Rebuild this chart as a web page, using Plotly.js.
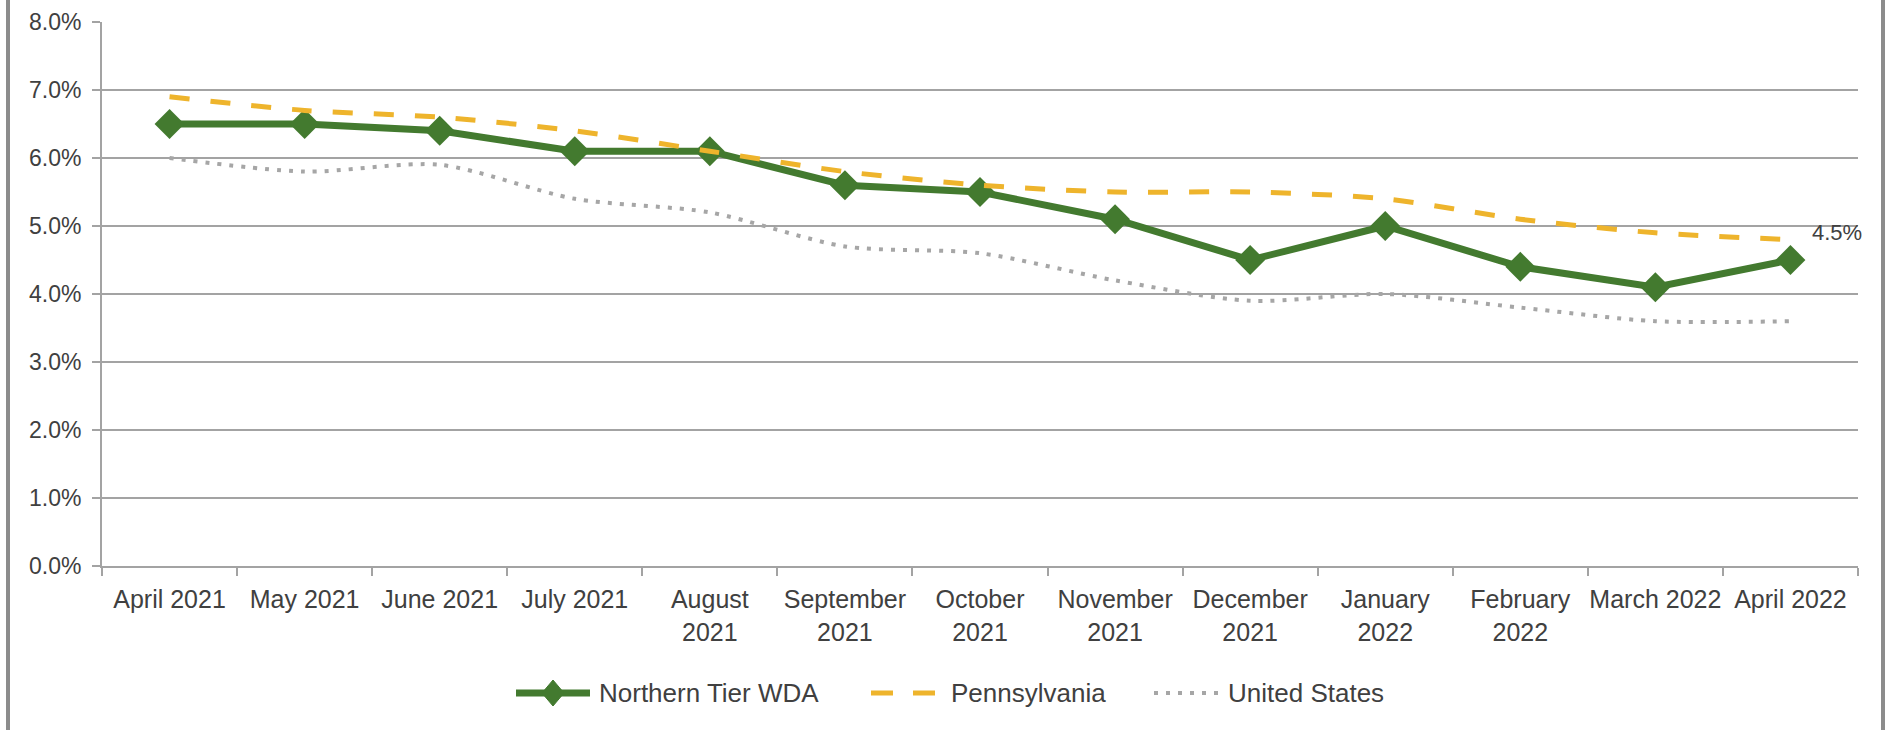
<!DOCTYPE html>
<html>
<head>
<meta charset="utf-8">
<script src="https://cdn.plot.ly/plotly-3.0.1.min.js"></script>
<style>
  html, body { margin: 0; padding: 0; background: #ffffff; }
  #chart { width: 1889px; height: 730px; }
</style>
</head>
<body>
<div id="chart"></div>
<script>
// Categories (x axis tick labels)
const months = [
  "April 2021", "May 2021", "June 2021", "July 2021", "August<br>2021",
  "September<br>2021", "October<br>2021", "November<br>2021", "December<br>2021",
  "January<br>2022", "February<br>2022", "March 2022", "April 2022"
];

// Unemployment rate series (%)
const northernTier = [6.5, 6.5, 6.4, 6.1, 6.1, 5.6, 5.5, 5.1, 4.5, 5.0, 4.4, 4.1, 4.5];
const pennsylvania = [6.9, 6.7, 6.6, 6.4, 6.1, 5.8, 5.6, 5.5, 5.5, 5.4, 5.1, 4.9, 4.8];
const unitedStates = [6.0, 5.8, 5.9, 5.4, 5.2, 4.7, 4.6, 4.2, 3.9, 4.0, 3.8, 3.6, 3.6];

// Series names
const seriesNames = ["Northern Tier WDA", "Pennsylvania", "United States"];

const FONT = "'Liberation Sans', Arial, sans-serif";
const TEXT = "#404040";
const GRID = "#a3a3a3";
const GREEN = "#437a2f";
const GOLD = "#eeb42c";
const GRAY = "#a6a6a6";

// plot area geometry (pixels)
const W = 1889, H = 730;
const M = { l: 102, r: 31, t: 22, b: 164 };
const PW = W - M.l - M.r, PH = H - M.t - M.b;
const px = v => (v - M.l) / PW;          // pixel x -> paper x
const py = v => (H - M.b - v) / PH;      // pixel y -> paper y

const traces = [
  {
    x: months, y: northernTier, name: seriesNames[0], type: "scatter",
    mode: "lines+markers",
    line: { color: GREEN, width: 7 },
    marker: { symbol: "diamond", size: 23, color: GREEN }
  },
  {
    x: months, y: pennsylvania, name: seriesNames[1], type: "scatter",
    mode: "lines",
    line: { color: GOLD, width: 5, dash: "20px,21px", shape: "spline", smoothing: 0.8 }
  },
  {
    x: months, y: unitedStates, name: seriesNames[2], type: "scatter",
    mode: "lines",
    line: { color: GRAY, width: 4, dash: "4px,8px", shape: "spline", smoothing: 0.8 }
  }
];

const last = northernTier.length - 1;
const legY = py(693);

// manual legend (Excel-style long symbols)
const legendItems = [
  { name: seriesNames[0], x0: 516, x1: 590, tx: 597, line: { color: GREEN, width: 7 }, diamond: true },
  { name: seriesNames[1], x0: 871, x1: 936, tx: 949, line: { color: GOLD, width: 5, dash: "22px,20px" } },
  { name: seriesNames[2], x0: 1154, x1: 1218, tx: 1226, line: { color: GRAY, width: 4, dash: "4px,8px" } }
];

const shapes = [
  { type: "line", xref: "paper", yref: "paper", x0: px(8), x1: px(8), y0: py(740), y1: py(-10),
    line: { color: "#8c8c8c", width: 4 } },
  { type: "line", xref: "paper", yref: "paper", x0: px(1883), x1: px(1883), y0: py(740), y1: py(-10),
    line: { color: "#8c8c8c", width: 4 } }
];
const annotations = [
  {
    x: months[last], y: northernTier[last], xref: "x", yref: "y",
    text: northernTier[last].toFixed(1) + "%", showarrow: false,
    xanchor: "left", yanchor: "middle", xshift: 20, yshift: 28,
    font: { family: FONT, size: 22, color: TEXT }
  }
];
legendItems.forEach(it => {
  shapes.push({ type: "line", xref: "paper", yref: "paper",
    x0: px(it.x0), x1: px(it.x1), y0: legY, y1: legY, line: it.line });
  if (it.diamond) {
    shapes.push({ type: "path", xref: "paper", yref: "paper",
      xsizemode: "pixel", ysizemode: "pixel",
      xanchor: px((it.x0 + it.x1) / 2), yanchor: legY,
      path: "M 0,13 L 11,0 L 0,-13 L -11,0 Z",
      fillcolor: GREEN, line: { color: GREEN, width: 1 } });
  }
  annotations.push({ xref: "paper", yref: "paper", x: px(it.tx), y: legY,
    xanchor: "left", yanchor: "middle", showarrow: false, text: it.name,
    font: { family: FONT, size: 26, color: TEXT } });
});

const layout = {
  width: W, height: H,
  margin: { l: M.l, r: M.r, t: M.t, b: M.b, pad: 0 },
  paper_bgcolor: "#ffffff", plot_bgcolor: "#ffffff",
  font: { family: FONT, size: 24, color: TEXT },
  showlegend: false,
  xaxis: {
    type: "category",
    range: [-0.5, months.length - 0.5],
    showgrid: false, zeroline: false,
    showline: true, linecolor: GRID, linewidth: 2,
    ticks: "outside", tickson: "boundaries", ticklen: 8, tickwidth: 2, tickcolor: GRID,
    tickangle: 0,
    tickfont: { family: FONT, size: 25, color: TEXT },
    ticklabelstandoff: 10,
    fixedrange: true
  },
  yaxis: {
    range: [0, 8], dtick: 1, tick0: 0,
    tickformat: ".1f", ticksuffix: "%",
    showgrid: true, gridcolor: GRID, gridwidth: 2,
    zeroline: false,
    showline: true, linecolor: GRID, linewidth: 2,
    ticks: "outside", ticklen: 8, tickwidth: 2, tickcolor: GRID,
    tickfont: { family: FONT, size: 23, color: TEXT },
    ticklabelstandoff: 6,
    fixedrange: true
  },
  annotations: annotations,
  shapes: shapes
};

Plotly.newPlot("chart", traces, layout, { staticPlot: true, displayModeBar: false });
</script>
</body>
</html>
